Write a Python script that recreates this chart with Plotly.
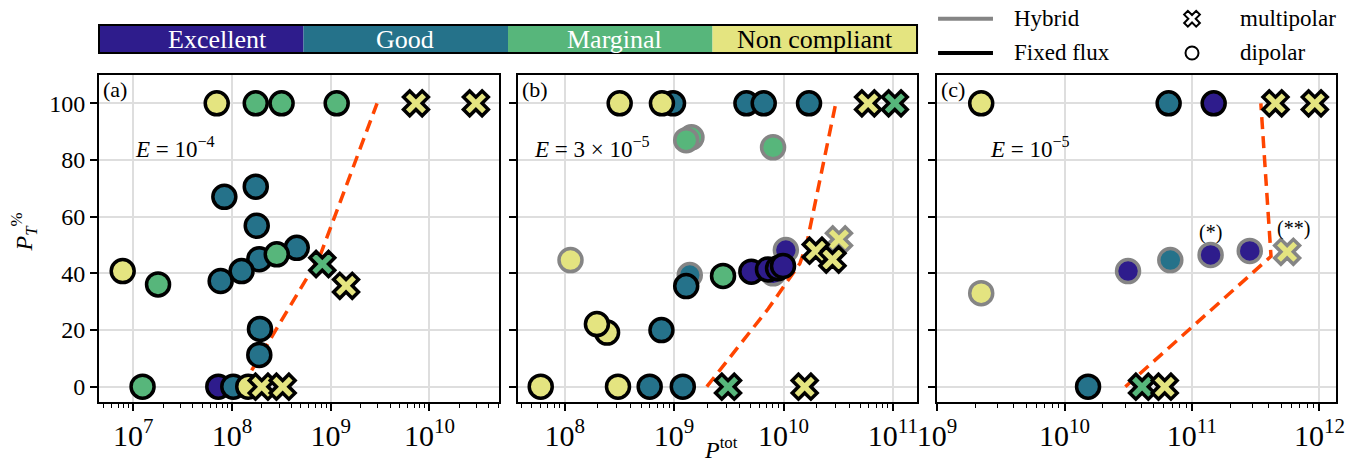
import math
import plotly.graph_objects as go

FONT = "Liberation Serif"

CATEGORIES = ["Excellent", "Good", "Marginal", "Non compliant"]
CAT_COLORS = ["#2e1c8c", "#25728a", "#57b67b", "#e4e480"]
CAT_TEXT = ["white", "white", "white", "black"]
CAT_LABEL_X = [0.0962, 0.2474, 0.4171, 0.5788]   # label centres (paper)
EDGE = {"H": "#858585", "F": "black"}
SYMBOL = {"d": "circle", "m": "x"}
QIDX = {"E": 0, "G": 1, "M": 2, "N": 3}

# panel (a)  E = 1e-4
a_ptot = [7.0e7, 1.74e8, 3.18e8, 1.15e9, 8.36e7, 1.74e8, 1.78e8, 4.53e8, 1.89e8, 1.25e8,
          7.67e7, 2.84e8, 7.8e6, 1.78e7, 1.92e8, 1.89e8, 1.24e7, 7.26e7, 1.03e8, 1.46e8,
          7.31e9, 2.96e10, 8.22e8, 1.43e9, 2.0e8, 3.26e8]
a_pt = [100, 100, 100, 100, 67.0, 70.6, 56.8, 49.0, 45.0, 40.8,
        37.3, 46.7, 40.8, 36.1, 20.4, 11.2, 0, 0, 0, 0,
        100, 100, 43.3, 35.6, 0, 0]
a_qual = ["N", "M", "M", "M", "G", "G", "G", "G", "G", "G",
          "G", "M", "N", "M", "G", "G", "M", "E", "G", "N",
          "N", "N", "M", "N", "N", "N"]
a_shape = ["d"] * 20 + ["m"] * 6
a_model = ["F"] * 26
a_line_p = [1.26e8, 7.76e8, 2.95e9]
a_line_pt = [0, 46, 100]

# panel (b)  E = 3e-5
b_ptot = [3.18e8, 9.77e8, 7.74e8, 4.58e9, 6.59e9, 1.71e10, 1.29e9, 2.8e9, 5.08e9, 7.21e9,
          8.91e9, 9.89e9, 2.44e8, 1.97e8, 7.66e8, 6.04e7, 3.07e8, 5.98e8, 1.2e9,
          5.93e10, 1.04e11, 1.97e10, 2.8e10, 3.11e9, 1.56e10,
          1.44e9, 1.29e9, 8.02e9, 1.13e8, 1.39e9, 1.05e10, 8.02e9,
          3.21e10]
b_pt = [100, 100, 100, 100, 100, 100, 35.5, 39.1, 40.6, 41.4,
        41.8, 42.6, 19.1, 22.1, 20.0, 0, 0, 0, 0,
        100, 100, 48.0, 44.9, 0, 0,
        88.0, 87.0, 84.5, 44.7, 39.4, 48.2, 40.0,
        52.0]
b_qual = ["N", "G", "N", "G", "G", "G", "G", "M", "E", "E",
          "E", "E", "N", "N", "G", "N", "N", "G", "G",
          "N", "M", "N", "N", "M", "N",
          "M", "M", "M", "N", "G", "E", "E",
          "N"]
b_shape = ["d"] * 19 + ["m"] * 6 + ["d"] * 7 + ["m"]
b_model = ["F"] * 25 + ["H"] * 8
b_line_p = [1.99e9, 7.24e9, 1.41e10, 1.62e10, 3.0e10]
b_line_pt = [0, 27.5, 43.5, 50, 100]

# panel (c)  E = 1e-5
c_ptot = [2.22e9, 6.56e10, 1.48e11, 1.53e10,
          4.52e11, 9.2e11, 4.06e10, 6.11e10,
          2.22e9, 3.15e10, 6.76e10, 1.4e11, 2.84e11,
          5.58e11]
c_pt = [100, 100, 100, 0,
        100, 100, 0, 0,
        33.0, 40.8, 44.7, 46.5, 47.9,
        47.6]
c_qual = ["N", "G", "E", "G",
          "N", "N", "M", "N",
          "N", "E", "G", "E", "E",
          "N"]
c_shape = ["d"] * 4 + ["m"] * 4 + ["d"] * 5 + ["m"]
c_model = ["F"] * 8 + ["H"] * 6
c_line_p = [3.0e10, 4.17e11, 3.47e11]
c_line_pt = [0, 46, 100]

panels = [
    ("x", "y", a_ptot, a_pt, a_qual, a_shape, a_model, a_line_p, a_line_pt),
    ("x2", "y2", b_ptot, b_pt, b_qual, b_shape, b_model, b_line_p, b_line_pt),
    ("x3", "y3", c_ptot, c_pt, c_qual, c_shape, c_model, c_line_p, c_line_pt),
]

fig = go.Figure()

for xa, ya, ptot, pt, qual, shape, model, lp, lpt in panels:
    # threshold line
    fig.add_trace(go.Scatter(x=lp, y=lpt, mode="lines", xaxis=xa, yaxis=ya,
                             line=dict(color="#ff4500", width=3.5, dash="12px,7px"),
                             showlegend=False, hoverinfo="skip"))
    # hybrid first, fixed flux on top; circles before crosses
    for m in ["H", "F"]:
        for s in ["d", "m"]:
            idx = [i for i in range(len(ptot)) if model[i] == m and shape[i] == s]
            if not idx:
                continue
            fig.add_trace(go.Scatter(
                x=[ptot[i] for i in idx], y=[pt[i] for i in idx],
                mode="markers", xaxis=xa, yaxis=ya, showlegend=False,
                marker=dict(symbol=SYMBOL[s], size=23 if s == "d" else 22,
                            color=[CAT_COLORS[QIDX[qual[i]]] for i in idx],
                            line=dict(color=EDGE[m], width=3.5)),
            ))

axis_common = dict(showline=True, linecolor="black", linewidth=2, mirror=True,
                   ticks="outside", ticklen=7, tickwidth=1.5, tickcolor="black",
                   showgrid=True, gridcolor="#dedede", gridwidth=1.5, zeroline=False,
                   automargin=False,
                   tickfont=dict(family=FONT, size=24, color="black"))
xcommon = dict(axis_common, type="log", dtick=1, exponentformat="power",
               minor=dict(ticks="outside", ticklen=4, tickwidth=1, tickcolor="black",
                          dtick="D1", showgrid=False))
ycommon = dict(axis_common, range=[-5.4, 110], tickvals=[0, 20, 40, 60, 80, 100])

W, H = 1353, 460
ML, MR, MT, MB = 91, 25, 67, 66
PW, PH = W - ML - MR, H - MT - MB

fig.update_layout(
    width=W, height=H,
    margin=dict(l=ML, r=MR, t=MT, b=MB),
    paper_bgcolor="white", plot_bgcolor="white",
    font=dict(family=FONT, size=22, color="black"),
    showlegend=False,
    xaxis=dict(xcommon, domain=[0, 0.3234], range=[6.652, 10.706], anchor="y"),
    xaxis2=dict(xcommon, domain=[0.3387, 0.6613], range=[7.573, 11.22], anchor="y2"),
    xaxis3=dict(xcommon, domain=[0.6775, 1.0], range=[9.0, 12.13], anchor="y3"),
    yaxis=dict(ycommon, anchor="x"),
    yaxis2=dict(ycommon, anchor="x2", showticklabels=False),
    yaxis3=dict(ycommon, anchor="x3", showticklabels=False),
)

shapes = []
annotations = []

# category colour bar
seg = 0.6613 / len(CATEGORIES)
for i, (cat, col) in enumerate(zip(CATEGORIES, CAT_COLORS)):
    shapes.append(dict(type="rect", xref="paper", yref="paper", x0=i * seg, x1=(i + 1) * seg,
                       y0=1.0673, y1=1.1529, fillcolor=col, line=dict(width=0), layer="above"))
    annotations.append(dict(xref="paper", yref="paper", x=CAT_LABEL_X[i], y=1.110,
                            xanchor="center", yanchor="middle", text=cat, showarrow=False,
                            font=dict(family=FONT, size=26, color=CAT_TEXT[i])))
shapes.append(dict(type="rect", xref="paper", yref="paper", x0=0, x1=0.6613,
                   y0=1.0673, y1=1.1529, line=dict(color="black", width=2)))

# legend rows (paper y)
ROW_TOP, ROW_BOT = 1.172, 1.0673

# model legend lines
for yv, col, name in [(ROW_TOP, "#858585", "Hybrid"), (ROW_BOT, "black", "Fixed flux")]:
    shapes.append(dict(type="line", xref="paper", yref="paper", x0=0.6783, x1=0.7227,
                       y0=yv, y1=yv, line=dict(color=col, width=4)))
    annotations.append(dict(xref="paper", yref="paper", x=0.7381, y=yv, xanchor="left",
                            yanchor="middle", text=name, showarrow=False,
                            font=dict(family=FONT, size=23)))
for yv, name in [(ROW_TOP, "multipolar"), (ROW_BOT, "dipolar")]:
    annotations.append(dict(xref="paper", yref="paper", x=0.9208, y=yv, xanchor="left",
                            yanchor="middle", text=name, showarrow=False,
                            font=dict(family=FONT, size=23)))

# legend glyphs: open cross and open circle
gx = 0.8836
r_arm, w_arm = 8.5, 2.6
pts = [(w_arm, w_arm), (w_arm, r_arm), (-w_arm, r_arm), (-w_arm, w_arm), (-r_arm, w_arm),
       (-r_arm, -w_arm), (-w_arm, -w_arm), (-w_arm, -r_arm), (w_arm, -r_arm), (w_arm, -w_arm),
       (r_arm, -w_arm), (r_arm, w_arm)]
c45 = math.cos(math.pi / 4)
path = ""
for k, (px, py) in enumerate(pts):
    rx, ry = (px - py) * c45, (px + py) * c45
    path += ("M" if k == 0 else "L") + f"{gx + rx / PW:.5f},{ROW_TOP + ry / PH:.5f}"
path += "Z"
shapes.append(dict(type="path", xref="paper", yref="paper", path=path,
                   line=dict(color="black", width=2), fillcolor="white"))
rc = 6.5
shapes.append(dict(type="circle", xref="paper", yref="paper",
                   x0=gx - rc / PW, x1=gx + rc / PW, y0=ROW_BOT - rc / PH, y1=ROW_BOT + rc / PH,
                   line=dict(color="black", width=2), fillcolor="white"))

# panel labels and E values
for xa, ya, lab, etxt, ex in [("x", "y", "(a)", "<i>E</i> = 10<sup>−4</sup>", 7.0),
                              ("x2", "y2", "(b)", "<i>E</i> = 3 × 10<sup>−5</sup>", 7.70),
                              ("x3", "y3", "(c)", "<i>E</i> = 10<sup>−5</sup>", 9.40)]:
    annotations.append(dict(xref=xa + " domain", yref=ya + " domain", x=0.006, y=0.955,
                            xanchor="left", yanchor="middle", text=lab, showarrow=False,
                            font=dict(family=FONT, size=22)))
    annotations.append(dict(xref=xa, yref=ya, x=ex, y=84.5, xanchor="left", yanchor="middle",
                            text=etxt, showarrow=False, font=dict(family=FONT, size=23)))

annotations.append(dict(xref="x3", yref="y3", x=11.145, y=54.5, text="(*)", showarrow=False,
                        xanchor="center", yanchor="middle", font=dict(family=FONT, size=20)))
annotations.append(dict(xref="x3", yref="y3", x=11.80, y=56, text="(**)", showarrow=False,
                        xanchor="center", yanchor="middle", font=dict(family=FONT, size=20)))

# axis titles
annotations.append(dict(xref="paper", yref="paper", x=-0.061, y=0.52, textangle=-90,
                        xanchor="center", yanchor="middle",
                        text="<i>P</i><sub><i>T</i></sub><sup>%</sup>", showarrow=False,
                        font=dict(family=FONT, size=24)))
annotations.append(dict(xref="paper", yref="paper", x=0.503, y=-0.14, xanchor="center",
                        yanchor="middle", text="<i>P</i><sup>tot</sup>", showarrow=False,
                        font=dict(family=FONT, size=24)))

fig.update_layout(shapes=shapes, annotations=annotations)

fig.write_html("out.html")
